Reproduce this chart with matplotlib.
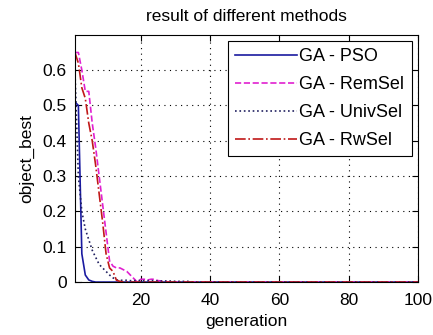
import numpy as np
import matplotlib
matplotlib.use("Agg")
import matplotlib.pyplot as plt

plt.rcParams['font.family'] = ['Liberation Sans', 'DejaVu Sans']

# generations 1..100, values (tail is zero)
gen = np.arange(1, 101)

pso_head = [0.51, 0.50, 0.08, 0.02, 0.006, 0.002]
remsel_head = [0.65, 0.65, 0.60, 0.54, 0.54, 0.45, 0.38, 0.30, 0.22, 0.14,
               0.06, 0.045, 0.04, 0.04, 0.035, 0.03, 0.02, 0.01, 0.0, 0.008,
               0.008, 0.006, 0.008, 0.008, 0.004, 0.003, 0.002]
univsel_head = [0.60, 0.30, 0.20, 0.15, 0.12, 0.09, 0.07, 0.05, 0.04, 0.03,
                0.02, 0.012, 0.006, 0.005, 0.005, 0.005, 0.004, 0.004, 0.004,
                0.004, 0.004, 0.004, 0.004, 0.004, 0.003, 0.003, 0.003, 0.003,
                0.003, 0.002, 0.002, 0.002, 0.002, 0.002]
rwsel_head = [0.65, 0.62, 0.55, 0.52, 0.45, 0.40, 0.33, 0.25, 0.17, 0.08,
              0.04, 0.03, 0.005, 0.002]


def pad(head):
    return np.array(head + [0.0] * (100 - len(head)))


pso = pad(pso_head)
remsel = pad(remsel_head)
univsel = pad(univsel_head)
rwsel = pad(rwsel_head)

fig = plt.figure(figsize=(4.33, 3.35), dpi=100)
ax = fig.add_axes([0.173, 0.158, 0.792, 0.738])

ax.plot(gen, pso, '-', color='#1a1aa0', lw=1.2, label='GA - PSO')
ax.plot(gen, remsel, '--', color='#e020d0', lw=1.2, label='GA - RemSel')
ax.plot(gen, univsel, ':', color='#202060', lw=1.2, label='GA - UnivSel')
ax.plot(gen, rwsel, '-.', color='#c01818', lw=1.2, label='GA - RwSel')

ax.set_xlim(1, 100)
ax.set_ylim(0, 0.7)
ax.set_xticks([20, 40, 60, 80, 100])
ax.set_yticks([0, 0.1, 0.2, 0.3, 0.4, 0.5, 0.6])
ax.set_yticklabels(['0', '0.1', '0.2', '0.3', '0.4', '0.5', '0.6'])
ax.tick_params(direction='in', top=True, right=True, labelsize=12.5, length=4)
ax.tick_params(axis='x', pad=8)
ax.tick_params(axis='y', pad=6)
ax.grid(True, linestyle=(0, (1, 4)), color='black', lw=0.8)
for s in ax.spines.values():
    s.set_linewidth(0.8)

ax.set_xlabel('generation', fontsize=12.5, labelpad=4)
ax.set_ylabel('object_best', fontsize=12.5, labelpad=6)
ax.set_title('result of different methods', fontsize=12.5, pad=10)

leg = ax.legend(loc='upper right', fontsize=13, frameon=True, fancybox=False,
                edgecolor='black', framealpha=1, handlelength=3.4,
                borderpad=0.4, labelspacing=0.6, handletextpad=0.15,
                borderaxespad=0.35)
leg.get_frame().set_linewidth(0.8)

fig.savefig('out.png', dpi=100)
